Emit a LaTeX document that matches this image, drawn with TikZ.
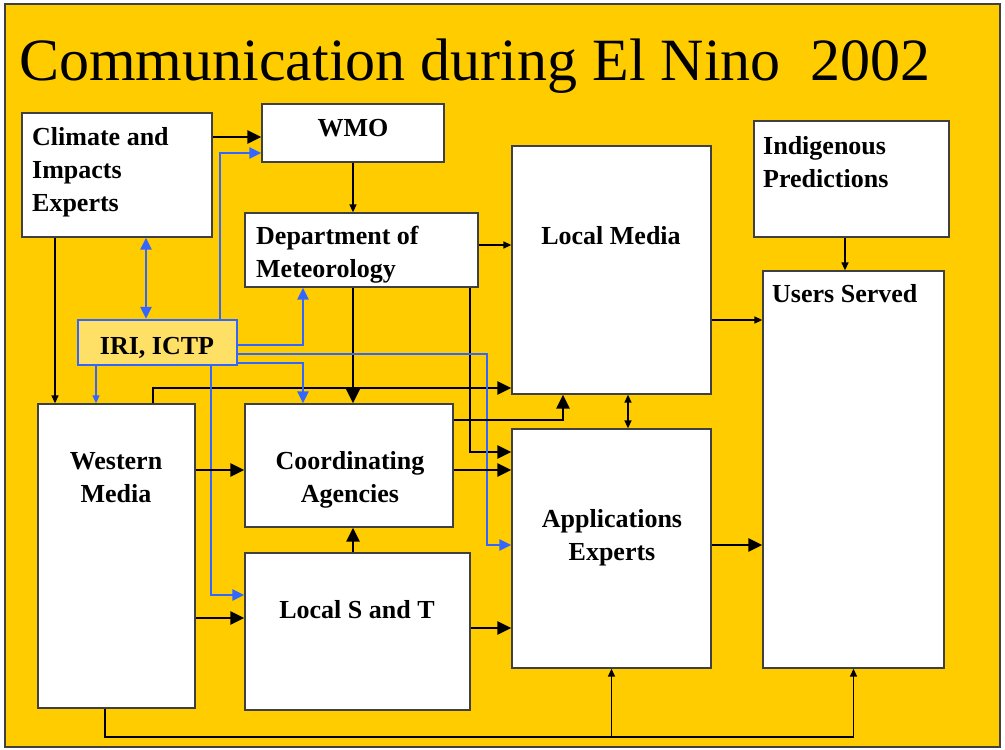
\documentclass[tikz,border=0pt]{standalone}
\usepackage{fontspec}
\setmainfont{Liberation Serif}
\usetikzlibrary{arrows.meta,calc}
\definecolor{slide}{HTML}{FFCC00}
\definecolor{irifill}{HTML}{FFE066}
\definecolor{link}{HTML}{3366FF}
\begin{document}
\begin{tikzpicture}[x=1pt, y=-1pt,
	hdL/.tip={Triangle[length=14pt,width=13pt]},
	hdM/.tip={Triangle[length=12pt,width=11pt]},
	hdS/.tip={Triangle[length=8pt,width=7pt]},
	box/.style={draw=black!75, line width=1.3pt, fill=white, inner sep=0pt},
	lbl/.style={font=\bfseries\fontsize{26}{33}\selectfont, inner sep=0pt},
	thk/.style={-hdL, line width=2.8pt},
	thn/.style={-hdS, line width=1.4pt},
	blu/.style={link, -hdM, line width=2.4pt},
	blut/.style={link, -hdS, line width=1.5pt}]
	\useasboundingbox (0,0) rectangle (1005,750);
	\fill[white] (0,0) rectangle (1005,750);
	\filldraw[fill=slide, draw=black!75, line width=1.5pt] (5,4) rectangle (1000,747);
	\node[anchor=base west, inner sep=0pt, font=\fontsize{60}{72}\selectfont] (title) at (19,80) {Communication during El Nino\ \ 2002};

	\node[box, minimum width=190pt, minimum height=124pt] (climate) at (117,175) {};
	\node[box, minimum width=182pt, minimum height=58pt] (wmo) at (353,133) {};
	\node[box, minimum width=233pt, minimum height=74pt] (dept) at (361.5,250) {};
	\node[box, draw=link, line width=2.2pt, fill=irifill, minimum width=159pt, minimum height=45pt] (iri) at (157.5,342.5) {};
	\node[box, minimum width=157pt, minimum height=304pt] (western) at (116.5,556) {};
	\node[box, minimum width=208pt, minimum height=123pt] (coord) at (349,465.5) {};
	\node[box, minimum width=225pt, minimum height=157pt] (lst) at (357.5,631.5) {};
	\node[box, minimum width=199pt, minimum height=248pt] (lmedia) at (611.5,270) {};
	\node[box, minimum width=195pt, minimum height=116pt] (indig) at (851.5,179) {};
	\node[box, minimum width=181pt, minimum height=397pt] (users) at (853.5,469.5) {};
	\node[box, minimum width=199pt, minimum height=239pt] (apps) at (611.5,548.5) {};

	\node[lbl, anchor=base west, align=left] (climate-t) at (32,211) {Climate and\\Impacts\\Experts};
	\node[lbl, anchor=base] (wmo-t) at (353,136) {WMO};
	\node[lbl, anchor=base west, align=left] (dept-t) at (256,277) {Department of\\Meteorology};
	\node[lbl, anchor=base] (iri-t) at (157,354) {IRI, ICTP};
	\node[lbl, anchor=base, align=center] (western-t) at (116,502) {Western\\Media};
	\node[lbl, anchor=base, align=center] (coord-t) at (350,502) {Coordinating\\Agencies};
	\node[lbl, anchor=base] (lst-t) at (357,618) {Local S and T};
	\node[lbl, anchor=base] (lmedia-t) at (611,244) {Local Media};
	\node[lbl, anchor=base west, align=left] (indig-t) at (763,187) {Indigenous\\Predictions};
	\node[lbl, anchor=base west] (users-t) at (772,302) {Users Served};
	\node[lbl, anchor=base, align=center] (apps-t) at (612,560) {Applications\\Experts};

	\coordinate (c2w) at (0,137);
	\coordinate (i2w) at (220,153);
	\coordinate (c2i) at (146,0);
	\coordinate (c2wm) at (55,0);
	\coordinate (i2wm) at (96,0);
	\coordinate (i2d) at (303,345);
	\coordinate (i2a) at (487,354);
	\coordinate (i2ab) at (487,545);
	\coordinate (i2c) at (303,363);
	\coordinate (i2l) at (211,595);
	\coordinate (d2c) at (353,0);
	\coordinate (d2m) at (0,245);
	\coordinate (d2a) at (470,452);
	\coordinate (wm2m) at (153,388);
	\coordinate (c2m) at (563,420);
	\coordinate (row) at (0,470);
	\coordinate (wm2l) at (0,618);
	\coordinate (l2a) at (0,628);
	\coordinate (m2a) at (628,0);
	\coordinate (m2u) at (0,320);
	\coordinate (p2u) at (845,0);
	\coordinate (a2u) at (0,545);
	\coordinate (base) at (105,737);

	\draw[thk] (climate.east |- c2w) -- (wmo.west |- c2w);
	\draw[blu] (iri.north -| i2w) |- (wmo.west |- i2w);
	\draw[thn] (wmo.south) -- (wmo.south |- dept.north);
	\draw[link, hdM-hdM, line width=2.4pt] (climate.south -| c2i) -- (iri.north -| c2i);
	\draw[thn] (climate.south -| c2wm) -- (western.north -| c2wm);
	\draw[blut] (iri.south -| i2wm) -- (western.north -| i2wm);
	\draw[thk] (western.north -| wm2m) |- (lmedia.west |- wm2m);
	\draw[thk, -{Triangle[length=16pt,width=15pt]}] (dept.south -| d2c) -- (coord.north -| d2c);
	\draw[thk] (dept.south -| d2a) |- (apps.west |- d2a);
	\draw[thn] (dept.east |- d2m) -- (lmedia.west |- d2m);
	\draw[blu] (iri.east |- i2d) -| (dept.south -| i2d);
	\draw[blu] (iri.east |- i2c) -| (coord.north -| i2c);
	\draw[blu] (iri.east |- i2a) -- (i2a) -- (i2ab) -- (apps.west |- i2ab);
	\draw[blu] (iri.south -| i2l) |- (lst.west |- i2l);
	\draw[thk] (coord.east |- c2m) -| (lmedia.south -| c2m);
	\draw[thk] (coord.east |- row) -- (apps.west |- row);
	\draw[thk] (western.east |- row) -- (coord.west |- row);
	\draw[thk] (western.east |- wm2l) -- (lst.west |- wm2l);
	\draw[thk] (lst.north -| d2c) -- (coord.south -| d2c);
	\draw[thk] (lst.east |- l2a) -- (apps.west |- l2a);
	\draw[hdS-hdS, line width=1.4pt] (lmedia.south -| m2a) -- (apps.north -| m2a);
	\draw[thn] (lmedia.east |- m2u) -- (users.west |- m2u);
	\draw[thn] (indig.south -| p2u) -- (users.north -| p2u);
	\draw[thk] (apps.east |- a2u) -- (users.west |- a2u);
	\draw[thn] (western.south -| base) -- (base) -| (users.south);
	\draw[thn] (base -| apps.south) -- (apps.south);
\end{tikzpicture}
\end{document}
